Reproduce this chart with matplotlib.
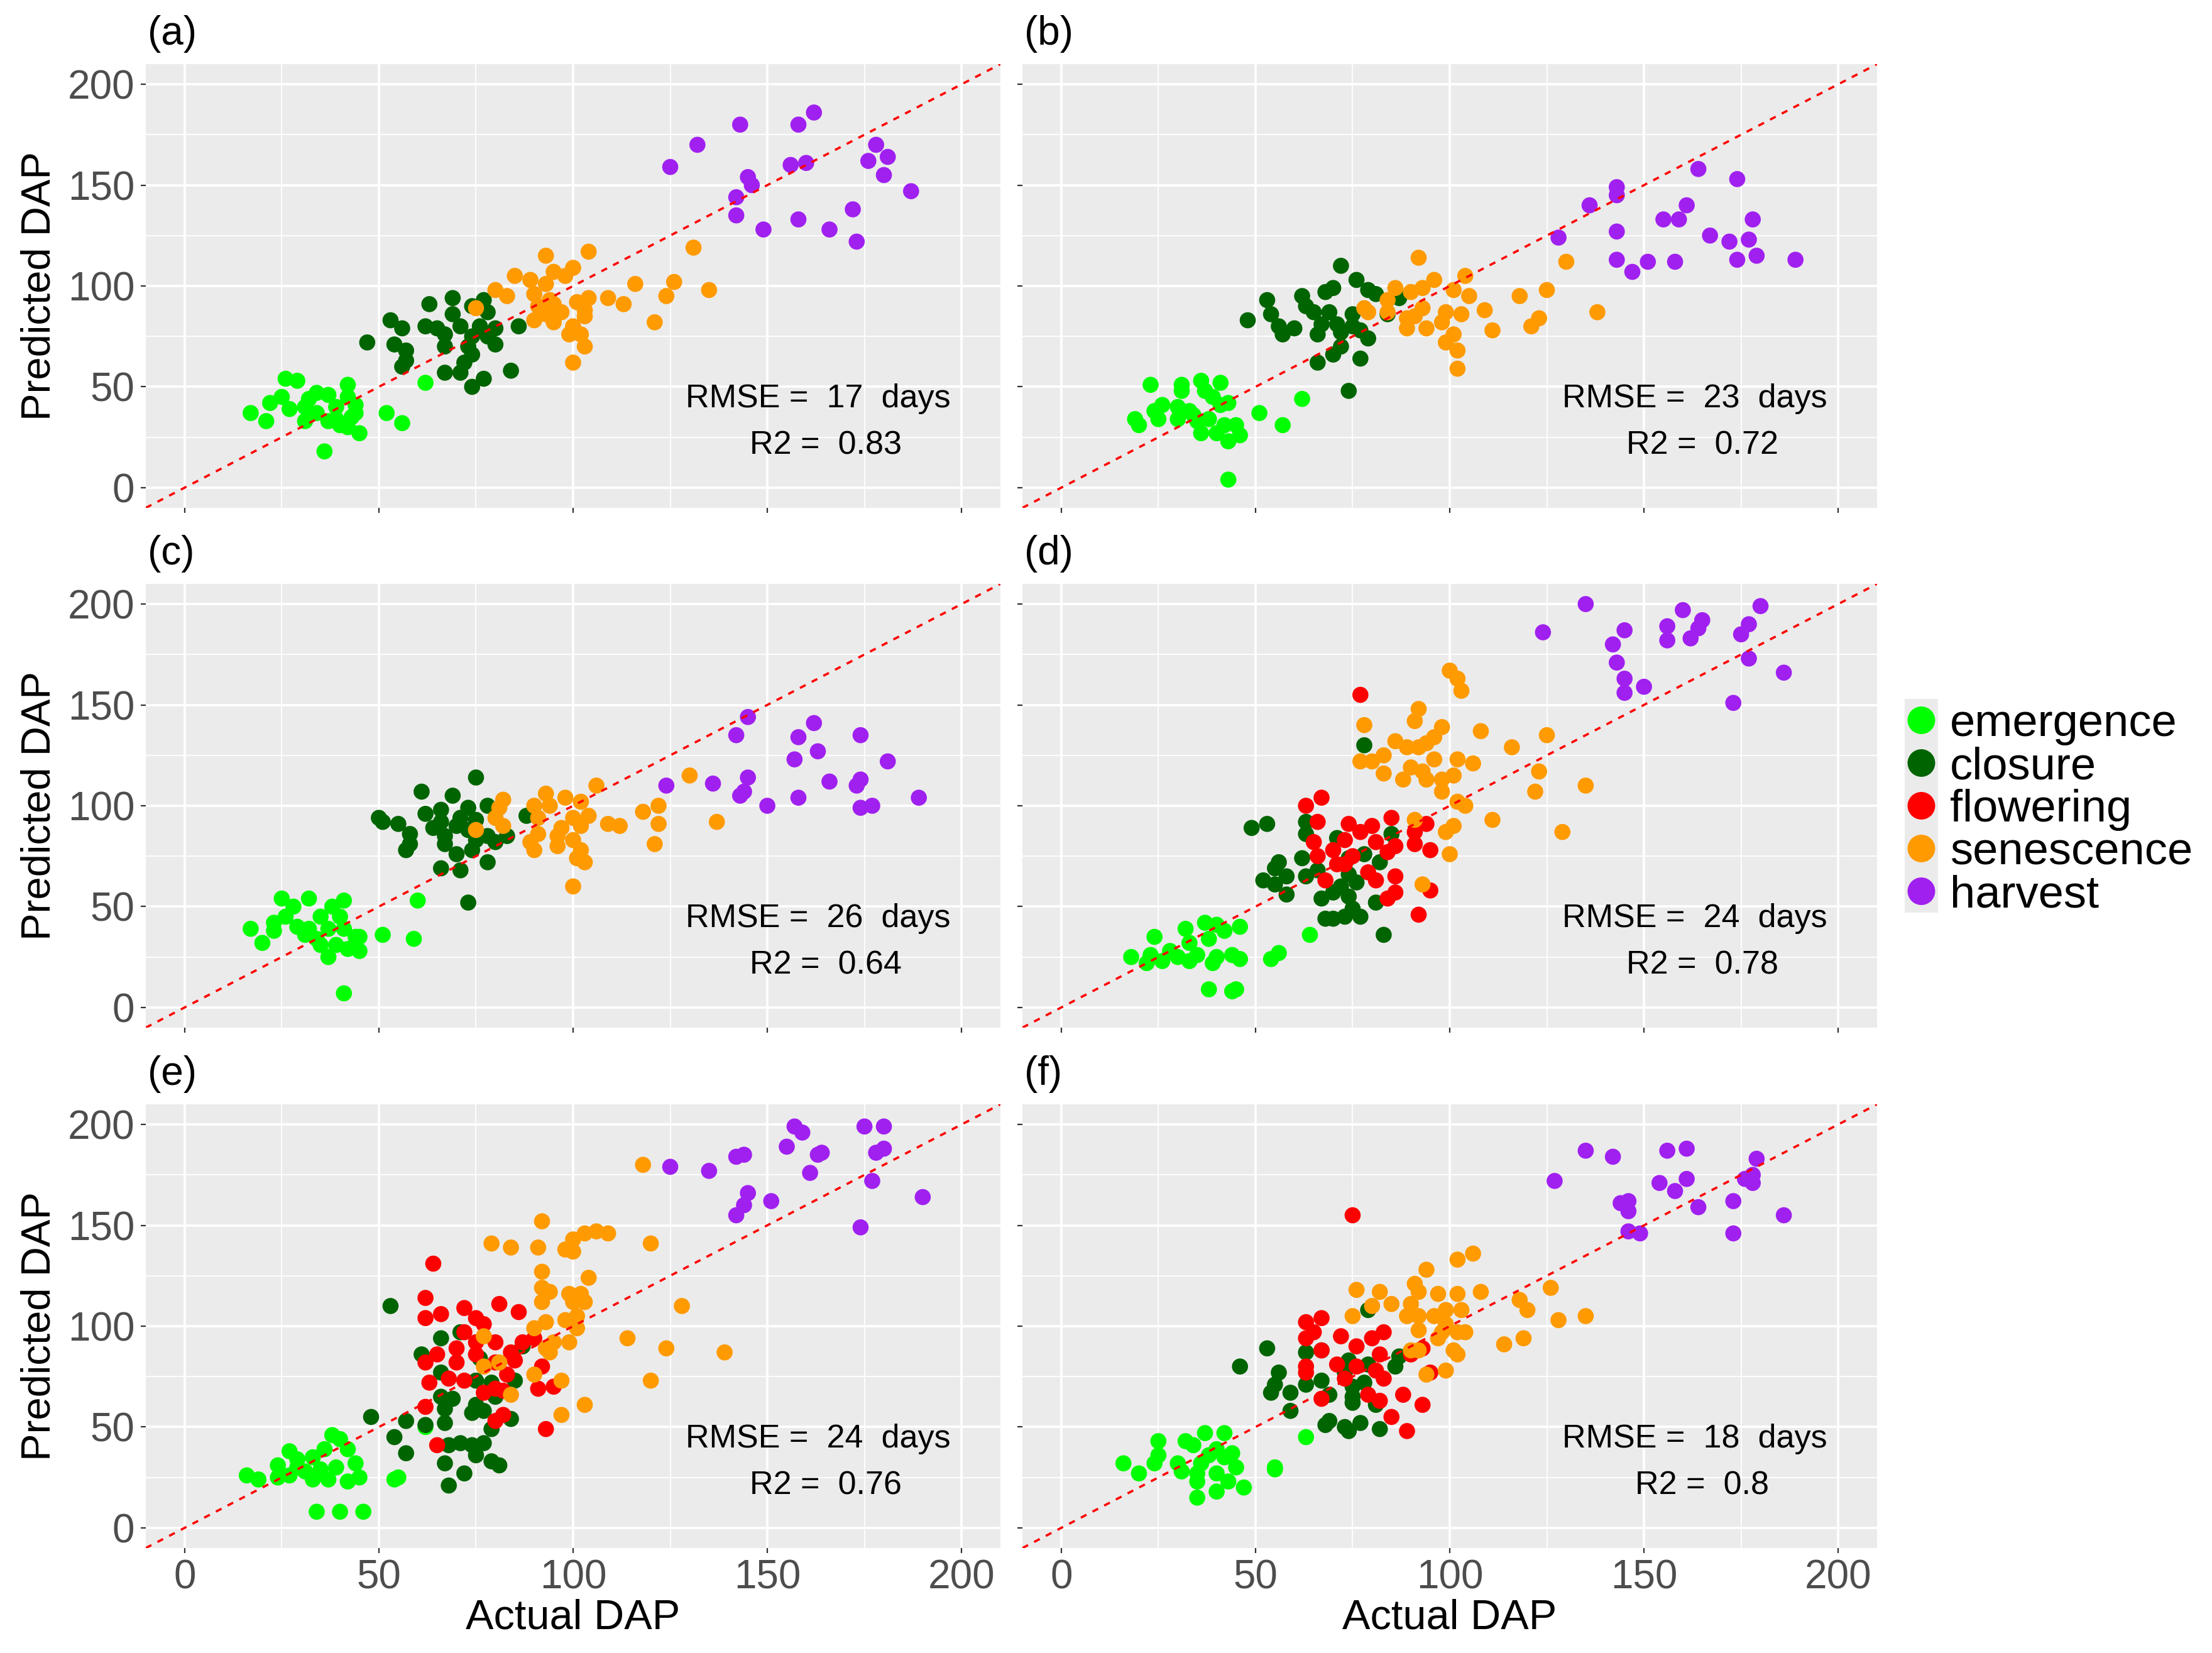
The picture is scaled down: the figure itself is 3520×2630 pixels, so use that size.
import matplotlib
matplotlib.use("Agg")
from matplotlib import pyplot as plt

plt.rcParams['font.family'] = ['Liberation Sans', 'DejaVu Sans']

stages = ['emergence', 'closure', 'flowering', 'senescence', 'harvest']
colors = {'emergence': '#00FF00', 'closure': '#006400', 'flowering': '#FF0000',
          'senescence': '#FF9A00', 'harvest': '#A020F0'}
panel_labels = ['(a)', '(b)', '(c)', '(d)', '(e)', '(f)']
rmse = [17, 23, 26, 24, 24, 18]
r2 = ['0.83', '0.72', '0.64', '0.78', '0.76', '0.8']
ticks = [0, 50, 100, 150, 200]

# (actual, predicted) pairs
a_emergence = [(62,52),(26,54),(29,53),(42,51),(34,47),(37,46),(25,45),(22,42),(42,45),(44,41),(17,37),(21,33),(27,39),(31,40),(34,37),(39,40),(43,35),(31,33),(37,33),(40,31),(45,27),(42,30),(52,37),(56,32),(36,18),(32,44),(44,37),(39,34)]
a_closure = [(69,94),(63,91),(77,93),(74,90),(78,87),(69,86),(53,83),(62,80),(65,79),(56,79),(71,80),(76,80),(80,79),(86,80),(67,76),(74,75),(78,75),(47,72),(54,71),(80,71),(67,70),(73,70),(57,68),(74,66),(57,63),(56,60),(84,58),(67,57),(71,57),(77,54),(74,50),(72,62)]
a_senescence = [(131,119),(93,115),(104,117),(100,109),(95,107),(98,105),(85,105),(89,103),(93,101),(116,101),(126,102),(135,98),(80,98),(83,95),(90,96),(104,94),(109,94),(113,91),(124,95),(94,93),(101,92),(91,90),(95,91),(75,89),(103,88),(93,86),(97,87),(90,83),(103,85),(95,82),(100,80),(121,82),(99,76),(102,76),(103,70),(100,62)]
a_harvest = [(162,186),(143,180),(158,180),(132,170),(125,159),(178,170),(181,164),(176,162),(156,160),(160,161),(180,155),(145,154),(146,150),(187,147),(142,144),(172,138),(142,135),(158,133),(149,128),(166,128),(173,122)]

b_emergence = [(23,51),(31,51),(36,53),(41,52),(31,48),(37,48),(39,45),(62,44),(26,41),(24,38),(30,40),(33,38),(41,41),(43,42),(51,37),(19,34),(20,31),(25,34),(30,34),(35,33),(38,34),(42,31),(45,31),(36,27),(40,27),(46,26),(43,23),(57,31),(43,4),(34,36)]
b_closure = [(72,110),(76,103),(70,99),(68,97),(79,98),(81,96),(62,95),(53,93),(87,94),(63,90),(69,87),(54,86),(48,83),(65,87),(75,86),(84,86),(71,81),(67,81),(56,80),(60,79),(75,80),(77,78),(66,76),(57,76),(72,77),(79,74),(72,70),(70,66),(77,64),(66,62),(74,48)]
b_senescence = [(92,114),(130,112),(104,105),(96,103),(93,99),(86,99),(90,97),(101,98),(105,95),(125,98),(118,95),(84,93),(138,87),(109,88),(78,89),(79,87),(93,89),(99,87),(103,86),(91,85),(84,87),(123,84),(111,78),(121,80),(89,79),(94,79),(98,82),(101,76),(99,72),(102,68),(102,59),(89,84)]
b_harvest = [(164,158),(174,153),(143,149),(143,145),(136,140),(161,140),(155,133),(159,133),(178,133),(143,127),(128,124),(167,125),(172,122),(177,123),(143,113),(151,112),(158,112),(174,113),(179,115),(189,113),(147,107)]

c_emergence = [(60,53),(25,54),(32,54),(41,53),(38,50),(28,50),(35,45),(26,45),(40,45),(23,42),(29,40),(32,39),(37,39),(41,39),(17,39),(51,36),(23,38),(31,36),(44,35),(45,35),(20,32),(59,34),(35,31),(39,31),(42,29),(45,28),(37,25),(41,7),(34,34)]
c_closure = [(75,114),(61,107),(69,105),(78,100),(73,99),(62,96),(66,98),(50,94),(55,91),(51,92),(88,95),(71,94),(75,93),(66,92),(70,90),(64,89),(73,88),(58,86),(67,85),(78,85),(83,85),(75,83),(58,81),(67,81),(80,82),(57,78),(70,76),(74,78),(78,72),(71,68),(66,69),(73,52)]
c_senescence = [(130,115),(106,110),(93,106),(82,103),(98,104),(102,102),(90,100),(94,100),(122,100),(118,97),(81,99),(104,95),(80,94),(100,94),(91,94),(109,91),(112,90),(122,91),(137,92),(82,90),(97,89),(102,90),(91,86),(96,85),(100,83),(89,82),(90,78),(96,80),(102,78),(121,81),(101,74),(103,72),(100,60),(75,88)]
c_harvest = [(145,144),(142,135),(158,134),(162,141),(174,135),(163,127),(157,123),(181,122),(145,114),(136,111),(124,110),(166,112),(174,113),(173,110),(144,107),(143,105),(158,104),(189,104),(150,100),(174,99),(177,100)]

d_emergence = [(37,42),(40,41),(46,40),(32,39),(24,35),(42,38),(38,34),(64,36),(33,32),(28,28),(18,25),(23,26),(30,25),(35,26),(40,25),(44,26),(46,24),(56,27),(54,24),(22,22),(26,23),(33,23),(39,22),(38,9),(44,8),(45,9)]
d_closure = [(78,130),(49,89),(53,91),(63,92),(63,86),(71,84),(85,86),(62,74),(56,72),(55,69),(74,74),(78,76),(82,72),(66,68),(58,65),(52,63),(55,61),(63,65),(74,66),(76,62),(72,60),(58,56),(70,57),(67,54),(74,55),(81,52),(75,49),(68,44),(70,44),(73,45),(77,45),(83,36)]
d_flowering = [(77,155),(67,104),(63,100),(66,92),(74,91),(80,90),(85,94),(94,91),(91,87),(77,87),(65,82),(73,83),(81,82),(86,80),(91,81),(95,78),(70,78),(66,75),(75,75),(84,77),(71,71),(79,67),(86,65),(68,63),(81,63),(86,57),(84,54),(95,58),(92,46),(73,71)]
d_senescence = [(100,167),(102,163),(103,157),(92,148),(91,142),(78,140),(98,139),(108,137),(125,135),(96,134),(86,132),(89,129),(92,129),(94,131),(116,129),(83,125),(77,122),(80,122),(96,123),(102,123),(106,121),(90,119),(83,116),(93,117),(123,117),(101,115),(88,113),(94,113),(98,113),(98,107),(122,107),(135,110),(102,102),(104,100),(111,93),(91,93),(101,90),(99,87),(129,87),(100,76),(93,61)]
d_harvest = [(135,200),(124,186),(160,197),(180,199),(165,192),(156,189),(145,187),(164,188),(177,190),(175,185),(156,182),(162,183),(142,180),(143,171),(177,173),(186,166),(145,163),(150,159),(145,156),(173,151)]

e_emergence = [(62,50),(38,46),(40,44),(42,39),(27,38),(36,39),(33,35),(24,31),(29,30),(44,32),(39,30),(35,29),(31,28),(27,26),(16,26),(19,24),(24,25),(33,24),(37,24),(42,23),(45,25),(54,24),(55,25),(34,8),(40,8),(46,8),(29,34)]
e_closure = [(53,110),(71,97),(66,94),(87,90),(61,86),(76,84),(66,77),(75,73),(85,73),(79,72),(66,65),(69,64),(80,65),(75,61),(67,59),(74,57),(77,58),(48,55),(57,53),(67,52),(84,54),(62,51),(79,49),(54,45),(71,42),(74,41),(77,42),(68,41),(57,37),(75,36),(67,32),(79,33),(81,31),(72,27),(68,21)]
e_flowering = [(64,131),(62,114),(81,111),(86,107),(66,106),(62,104),(72,109),(75,104),(77,101),(72,97),(75,92),(80,92),(87,92),(90,94),(70,89),(75,86),(65,86),(62,82),(84,87),(70,82),(80,82),(85,83),(92,80),(83,76),(63,72),(68,74),(72,73),(91,69),(95,70),(80,69),(77,67),(82,68),(62,60),(82,56),(80,53),(93,49),(65,41)]
e_senescence = [(118,180),(92,152),(106,147),(109,146),(103,146),(100,143),(79,141),(84,139),(91,139),(120,141),(98,138),(100,137),(92,127),(104,124),(92,119),(94,117),(99,116),(102,116),(92,112),(100,112),(103,112),(128,110),(101,105),(98,103),(93,102),(90,99),(101,99),(77,95),(114,94),(99,92),(95,92),(93,89),(124,89),(139,87),(94,87),(77,80),(81,82),(90,76),(97,73),(120,73),(84,66),(103,61),(97,56)]
e_harvest = [(157,199),(159,196),(175,199),(180,199),(155,189),(144,185),(142,184),(163,185),(164,186),(180,188),(178,186),(125,179),(135,177),(161,176),(177,172),(145,166),(144,160),(151,162),(190,164),(142,155),(174,149)]

f_emergence = [(63,45),(37,47),(42,47),(25,43),(32,43),(34,41),(40,39),(44,37),(25,36),(38,36),(42,35),(16,32),(24,32),(30,32),(36,32),(45,30),(55,30),(55,29),(20,27),(31,28),(35,27),(40,27),(35,23),(43,23),(47,20),(40,18),(35,15)]
f_closure = [(79,108),(53,89),(63,87),(67,88),(87,85),(74,83),(79,81),(86,80),(46,80),(56,77),(73,77),(67,73),(63,71),(78,72),(75,70),(55,71),(59,67),(54,67),(69,66),(75,65),(75,62),(81,61),(59,58),(69,53),(68,51),(73,50),(74,48),(77,52),(82,49)]
f_flowering = [(75,155),(63,102),(67,104),(65,97),(63,94),(72,95),(80,94),(83,97),(76,90),(67,88),(82,86),(93,89),(90,86),(63,80),(71,81),(76,80),(81,78),(95,77),(63,77),(73,74),(83,74),(79,66),(67,64),(88,66),(82,63),(93,61),(85,55),(89,48)]
f_senescence = [(106,136),(102,133),(94,128),(91,121),(76,118),(82,117),(92,117),(97,116),(108,117),(126,119),(102,116),(118,113),(85,111),(90,111),(80,110),(99,108),(103,108),(120,108),(75,105),(89,105),(92,105),(96,105),(135,105),(128,103),(99,101),(92,98),(98,97),(102,97),(104,97),(119,94),(97,94),(114,91),(101,88),(102,86),(92,88),(90,88),(99,78),(94,76)]
f_harvest = [(135,187),(142,184),(156,187),(161,188),(179,183),(127,172),(161,173),(154,171),(158,167),(176,173),(178,171),(178,175),(144,161),(146,162),(146,157),(164,159),(173,162),(186,155),(146,147),(149,146),(173,146)]

panels = [
    {'emergence': a_emergence, 'closure': a_closure, 'senescence': a_senescence, 'harvest': a_harvest},
    {'emergence': b_emergence, 'closure': b_closure, 'senescence': b_senescence, 'harvest': b_harvest},
    {'emergence': c_emergence, 'closure': c_closure, 'senescence': c_senescence, 'harvest': c_harvest},
    {'emergence': d_emergence, 'closure': d_closure, 'flowering': d_flowering, 'senescence': d_senescence, 'harvest': d_harvest},
    {'emergence': e_emergence, 'closure': e_closure, 'flowering': e_flowering, 'senescence': e_senescence, 'harvest': e_harvest},
    {'emergence': f_emergence, 'closure': f_closure, 'flowering': f_flowering, 'senescence': f_senescence, 'harvest': f_harvest},
]

W, H = 3520, 2630
fig = plt.figure(figsize=(W / 100, H / 100), dpi=100)

col_left = [232, 1627]
row_top = [102, 929, 1757]
pw, ph = 1360, 706


def rect(l, t, w, h):
    return [l / W, 1 - (t + h) / H, w / W, h / H]


for i, pts in enumerate(panels):
    r, c = divmod(i, 2)
    ax = fig.add_axes(rect(col_left[c], row_top[r], pw, ph))
    ax.set_facecolor('#EBEBEB')
    for s in ax.spines.values():
        s.set_visible(False)
    ax.set_xlim(-10, 210)
    ax.set_ylim(-10, 210)
    ax.set_xticks(ticks)
    ax.set_yticks(ticks)
    ax.set_xticks([25, 75, 125, 175], minor=True)
    ax.set_yticks([25, 75, 125, 175], minor=True)
    ax.grid(which='major', color='white', lw=2.7)
    ax.grid(which='minor', color='white', lw=1.3)
    ax.set_axisbelow(True)
    ax.tick_params(which='major', length=5.8, width=1.6, color='#333333',
                   labelsize=46, labelcolor='#4D4D4D', pad=7)
    ax.tick_params(which='minor', length=0)
    if c == 1:
        ax.set_yticklabels([])
    if r < 2:
        ax.set_xticklabels([])

    for st in stages:
        if st in pts:
            xs = [p[0] for p in pts[st]]
            ys = [p[1] for p in pts[st]]
            ax.scatter(xs, ys, s=340, color=colors[st], edgecolors='none', zorder=3)

    ax.plot([-10, 210], [-10, 210], color='#FF0000', lw=2.6,
            linestyle=(0, (2.8, 3.0)), zorder=4)

    ax.text(163, 40, 'RMSE =  %d  days' % rmse[i], fontsize=37.5, ha='center',
            va='baseline', zorder=5)
    ax.text(165, 16.5, 'R2 =  %s' % r2[i], fontsize=37.5, ha='center',
            va='baseline', zorder=5)

    fig.text((col_left[c] + 3) / W, 1 - (row_top[r] - 78) / H, panel_labels[i],
             fontsize=46, ha='left', va='top')

    if c == 0:
        fig.text(62 / W, 1 - (row_top[r] + ph / 2) / H, 'Predicted DAP',
                 fontsize=47, rotation=90, ha='center', va='center')
    if r == 2:
        fig.text((col_left[c] + pw / 2) / W, 1 - 2592 / H, 'Actual DAP',
                 fontsize=48, ha='center', va='baseline')

# legend
lax = fig.add_axes(rect(3031, 1112, 53, 340))
lax.set_facecolor('#EBEBEB')
for s in lax.spines.values():
    s.set_visible(False)
lax.set_xticks([])
lax.set_yticks([])
lax.set_xlim(0, 1)
lax.set_ylim(5, 0)
for k, st in enumerate(stages):
    lax.scatter([0.5], [k + 0.5], s=1000, color=colors[st], edgecolors='none')
    cy = 1112 + 68 * (k + 0.5)
    fig.text(3103 / W, 1 - (cy + 25) / H, st, fontsize=52, ha='left', va='baseline')

fig.savefig('out.png', dpi=100)
